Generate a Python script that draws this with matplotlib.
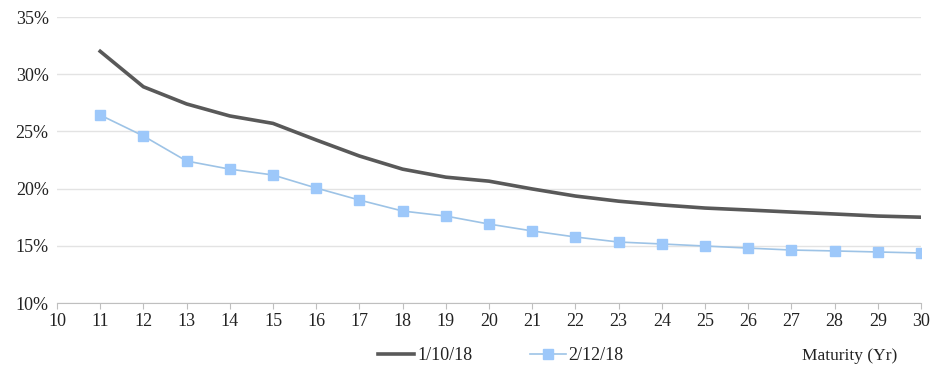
import matplotlib

matplotlib.use("Agg")
import matplotlib.pyplot as plt
from matplotlib.ticker import FuncFormatter, MultipleLocator

maturity = list(range(11, 31))
vol_jan = [32.0, 28.9, 27.4, 26.35, 25.7, 24.25, 22.85, 21.7, 21.0, 20.65,
           19.97, 19.35, 18.9, 18.57, 18.3, 18.13, 17.95, 17.78, 17.6, 17.5]
vol_feb = [26.43, 24.6, 22.41, 21.7, 21.19, 20.05, 19.0, 18.04, 17.6, 16.9,
           16.3, 15.77, 15.33, 15.16, 14.98, 14.8, 14.63, 14.55, 14.46, 14.37]
series_labels = ["1/10/18", "2/12/18"]

plt.rcParams["font.family"] = ["Liberation Serif", "DejaVu Serif"]

fig = plt.figure(figsize=(9.3, 3.68), dpi=100)
ax = fig.add_axes([57 / 930, 1 - 303 / 368, (921 - 57) / 930, (303 - 17) / 368])

ax.plot(maturity, vol_jan, color="#595959", linewidth=2.6, solid_joinstyle="round",
        label=series_labels[0], zorder=3)
ax.plot(maturity, vol_feb, color="#9DC3E6", linewidth=1.2, marker="s", markersize=7,
        markerfacecolor="#9DC8FA", markeredgecolor="#9DC8FA", label=series_labels[1], zorder=4)

ax.set_xlim(10, 30)
ax.set_ylim(10, 35)
ax.xaxis.set_major_locator(MultipleLocator(1))
ax.yaxis.set_major_locator(MultipleLocator(5))
ax.yaxis.set_major_formatter(FuncFormatter(lambda v, _: f"{v:.0f}%"))
ax.grid(axis="y", color="#E3E3E3", linewidth=1)
ax.set_axisbelow(True)
for side in ["top", "right", "left"]:
    ax.spines[side].set_visible(False)
ax.spines["bottom"].set_color("#BFBFBF")
ax.tick_params(axis="y", length=0, labelsize=13, pad=6)
ax.tick_params(axis="x", length=4, color="#BFBFBF", labelsize=13, pad=3)
for lab in ax.get_xticklabels() + ax.get_yticklabels():
    lab.set_color("#222222")

fig.text(897 / 930, 1 - 356 / 368, "Maturity (Yr)", ha="right", va="center",
         fontsize=12.5, color="#222222")
ax.legend(loc="center", bbox_to_anchor=(501 / 930, 1 - 356 / 368), bbox_transform=fig.transFigure,
          ncol=2, frameon=False, fontsize=13, handlelength=2.0, handletextpad=0.15,
          columnspacing=3.2, labelcolor="#222222")

fig.savefig("out.png", dpi=100)
